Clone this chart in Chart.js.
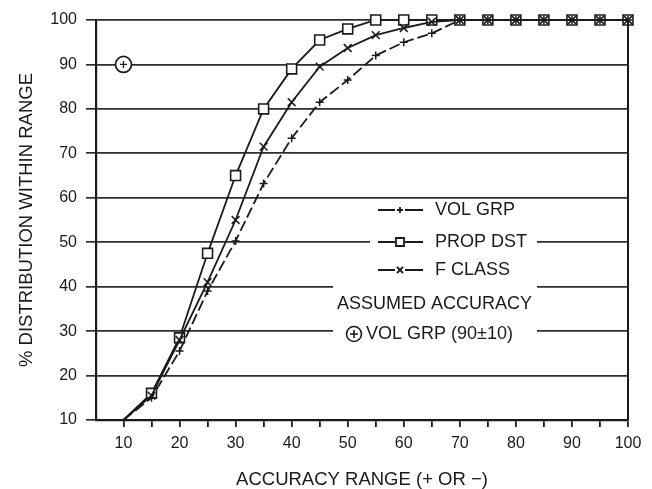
<!DOCTYPE html>
<html>
<head>
<meta charset="utf-8">
<script src="https://cdn.jsdelivr.net/npm/chart.js@4.4.1/dist/chart.umd.min.js"></script>
<style>
  html, body { margin: 0; padding: 0; background: #fff; }
</style>
</head>
<body>
<canvas id="myChart" width="652" height="489"></canvas>
<script>
const accuracy = [10, 15, 20, 25, 30, 35, 40, 45, 50, 55, 60, 65, 70, 75, 80, 85, 90, 95, 100];
const volGrp  = [10, 15, 25.5, 39, 50.3, 63.2, 73.4, 81.5, 86.5, 92, 95, 97, 100, 100, 100, 100, 100, 100, 100];
const propDst = [10, 16, 28.5, 47.5, 65, 80, 89, 95.5, 98, 100, 100, 100, 100, 100, 100, 100, 100, 100, 100];
const fClass  = [10, 15.5, 28, 41, 55, 71.5, 81.5, 89.5, 93.7, 96.6, 98.2, 99.6, 100, 100, 100, 100, 100, 100, 100];
const assumedVolGrp = [{ x: 10, y: 90 }];
const xTickValues = [10, 15, 20, 25, 30, 35, 40, 45, 50, 55, 60, 65, 70, 75, 80, 85, 90, 95, 100];
const yTickValues = [10, 20, 30, 40, 50, 60, 70, 80, 90, 100];

const ink = '#1a1a1a';
const FONT = "'Liberation Sans', Arial, Helvetica, sans-serif";

Chart.defaults.font.family = FONT;
Chart.defaults.color = ink;

const pts = (ys) => accuracy.map((x, i) => ({ x: x, y: ys[i] }));
// no marker on the first point, it sits on the axis
const hideFirst = (r) => (ctx) => (ctx.dataIndex === 0 ? 0 : r);

// custom legend + right frame line
const overlay = {
  id: 'overlay',
  afterDraw(chart) {
    const ctx = chart.ctx;
    const area = chart.chartArea;
    ctx.save();

    // right frame
    ctx.strokeStyle = ink;
    ctx.lineWidth = 2;
    ctx.beginPath();
    ctx.moveTo(area.right, area.top);
    ctx.lineTo(area.right, area.bottom);
    ctx.stroke();

    // white patches behind the legend
    ctx.fillStyle = '#fff';
    ctx.fillRect(370, 199, 167, 50);
    ctx.fillRect(333, 249, 204, 100);

    ctx.font = '18px ' + FONT;
    ctx.fillStyle = ink;
    ctx.textBaseline = 'middle';
    ctx.lineWidth = 1.8;

    const rows = [
      { text: 'VOL GRP', y: 210, mark: 'plus' },
      { text: 'PROP DST', y: 242, mark: 'square' },
      { text: 'F CLASS', y: 270, mark: 'x' },
    ];
    rows.forEach((r) => {
      const cx = 400;
      ctx.beginPath();
      ctx.moveTo(378, r.y);
      ctx.lineTo(cx - 5, r.y);
      ctx.moveTo(cx + 5, r.y);
      ctx.lineTo(423, r.y);
      ctx.stroke();
      ctx.beginPath();
      if (r.mark === 'plus') {
        ctx.moveTo(cx - 3, r.y); ctx.lineTo(cx + 3, r.y);
        ctx.moveTo(cx, r.y - 3); ctx.lineTo(cx, r.y + 3);
      } else if (r.mark === 'square') {
        ctx.rect(cx - 4, r.y - 4, 8, 8);
      } else {
        ctx.moveTo(cx - 3, r.y - 3); ctx.lineTo(cx + 3, r.y + 3);
        ctx.moveTo(cx + 3, r.y - 3); ctx.lineTo(cx - 3, r.y + 3);
      }
      ctx.stroke();
      ctx.textAlign = 'left';
      ctx.fillText(r.text, 435, r.y);
    });

    ctx.textAlign = 'left';
    ctx.fillText('ASSUMED ACCURACY', 337, 304);

    ctx.lineWidth = 1.6;
    ctx.beginPath();
    ctx.arc(354, 334, 7.5, 0, Math.PI * 2);
    ctx.moveTo(350, 334); ctx.lineTo(358, 334);
    ctx.moveTo(354, 330); ctx.lineTo(354, 338);
    ctx.stroke();
    ctx.fillText('VOL GRP (90\u00B110)', 366, 334);

    ctx.restore();
  },
};

const chart = new Chart(document.getElementById('myChart'), {
  type: 'line',
  data: {
    datasets: [
      {
        label: 'VOL GRP',
        data: pts(volGrp),
        borderColor: ink,
        borderWidth: 1.8,
        borderDash: [11, 4],
        pointStyle: 'cross',
        pointRadius: hideFirst(4),
        pointBorderColor: ink,
        pointBorderWidth: 1.5,
        clip: false,
        order: 1,
      },
      {
        label: 'PROP DST',
        data: pts(propDst),
        borderColor: ink,
        borderWidth: 1.8,
        pointStyle: 'rect',
        pointRadius: hideFirst(7),
        pointBackgroundColor: '#fff',
        pointBorderColor: ink,
        pointBorderWidth: 1.6,
        clip: false,
        order: 3,
      },
      {
        label: 'F CLASS',
        data: pts(fClass),
        borderColor: ink,
        borderWidth: 1.8,
        pointStyle: 'crossRot',
        pointRadius: hideFirst(5.5),
        pointBorderColor: ink,
        pointBorderWidth: 1.5,
        clip: false,
        order: 2,
      },
      {
        label: 'ASSUMED VOL GRP',
        data: assumedVolGrp,
        showLine: false,
        pointStyle: 'circle',
        pointRadius: 8,
        pointBackgroundColor: '#fff',
        pointBorderColor: ink,
        pointBorderWidth: 1.7,
        clip: false,
        order: 5,
      },
      {
        label: 'ASSUMED VOL GRP +',
        data: assumedVolGrp,
        showLine: false,
        pointStyle: 'cross',
        pointRadius: 3.5,
        pointBorderColor: ink,
        pointBorderWidth: 1.3,
        clip: false,
        order: 4,
      },
    ],
  },
  options: {
    responsive: false,
    animation: false,
    layout: {
      padding: { top: 20, right: 24, left: 0, bottom: 0 },
    },
    plugins: {
      legend: { display: false },
      tooltip: { enabled: false },
    },
    scales: {
      x: {
        type: 'linear',
        min: 5.1,
        max: 100,
        afterBuildTicks: (scale) => {
          scale.ticks = xTickValues.map((v) => ({ value: v }));
        },
        afterFit: (scale) => {
          scale.height = 69;
        },
        grid: {
          drawOnChartArea: false,
          drawTicks: true,
          tickLength: 7,
          color: ink,
          lineWidth: 1.8,
        },
        border: { color: ink, width: 2.2 },
        ticks: {
          autoSkip: false,
          maxRotation: 0,
          padding: 7,
          font: { size: 16 },
          color: ink,
          callback: (v) => (v % 10 === 0 ? String(v) : ''),
        },
        title: {
          display: true,
          text: 'ACCURACY RANGE (+ OR \u2212)',
          font: { size: 18.5, lineHeight: 1 },
          color: ink,
          padding: { top: 0, bottom: 0 },
        },
      },
      y: {
        min: 10,
        max: 100,
        afterBuildTicks: (scale) => {
          scale.ticks = yTickValues.map((v) => ({ value: v }));
        },
        afterFit: (scale) => {
          scale.width = 96;
        },
        grid: {
          drawTicks: true,
          tickLength: 10,
          color: '#2e2e2e',
          lineWidth: 1.7,
        },
        border: { color: ink, width: 2.2 },
        ticks: {
          padding: 9,
          font: { size: 16 },
          color: ink,
        },
        title: {
          display: true,
          text: '% DISTRIBUTION WITHIN RANGE',
          font: { size: 18.5, lineHeight: 1 },
          color: ink,
          padding: { top: 18, bottom: 0 },
        },
      },
    },
  },
  plugins: [overlay],
});
</script>
</body>
</html>
